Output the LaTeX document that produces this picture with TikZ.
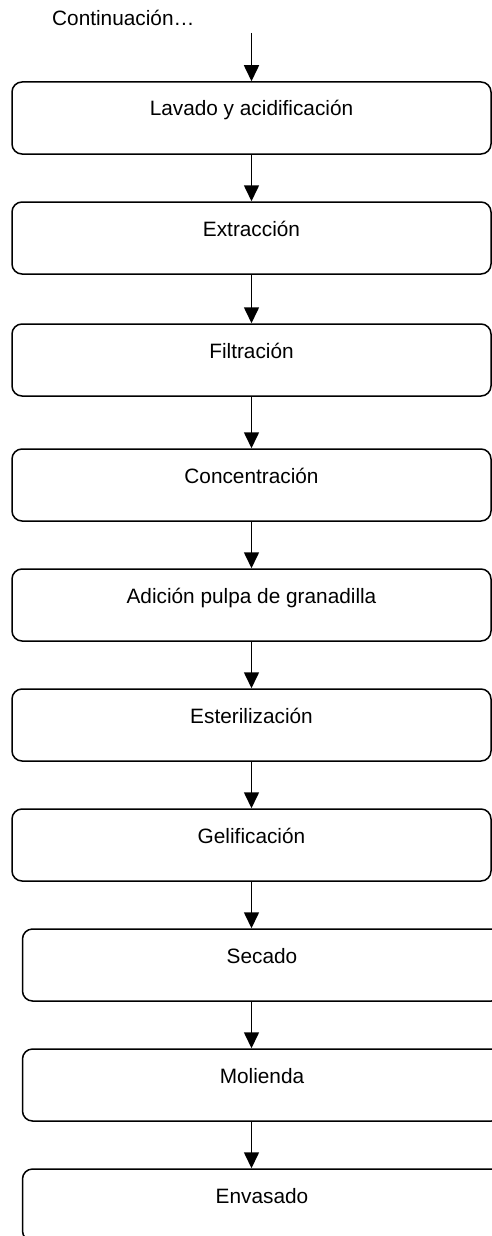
\documentclass[tikz,border=0pt]{standalone}
\usepackage{fontspec}
\setmainfont{Liberation Sans}
\usetikzlibrary{arrows.meta}
\begin{document}
\begin{tikzpicture}[x=1pt,y=-1pt,
  stepbox/.style={draw=black, line width=1.5pt, rounded corners=10pt, rectangle,
    minimum width=479pt, minimum height=72pt, inner sep=0pt,
    text height=14pt, text depth=18pt, font=\fontsize{20.8}{25}\selectfont},
  flow/.style={line width=1.6pt, -{Triangle[width=15pt,length=16pt]}},
  lbl/.style={inner sep=0pt, font=\fontsize{20.8}{25}\selectfont}]
\clip (0,0) rectangle (492,1236);
\fill[white] (0,0) rectangle (492,1236);
\node[lbl, anchor=base west] (cont) at (52,25.5) {Continuación…};
\coordinate (start) at (251.5,33);
\node[stepbox] (b1) at (251.5,118) {Lavado y acidificación};
\node[stepbox] (b2) at (251.5,238) {Extracción};
\node[stepbox] (b3) at (251.5,360) {Filtración};
\node[stepbox] (b4) at (251.5,485) {Concentración};
\node[stepbox] (b5) at (251.5,605) {Adición pulpa de granadilla};
\node[stepbox] (b6) at (251.5,725) {Esterilización};
\node[stepbox] (b7) at (251.5,845) {Gelificación};
\node[stepbox] (b8) at (262,965) {Secado};
\node[stepbox] (b9) at (262,1085) {Molienda};
\node[stepbox] (b10) at (262,1205) {Envasado};
\draw[flow] (start) -- (b1.north);
\draw[flow] (b1.south) -- (b2.north);
\draw[flow] (b2.south) -- (b3.north);
\draw[flow] (b3.south) -- (b4.north);
\draw[flow] (b4.south) -- (b5.north);
\draw[flow] (b5.south) -- (b6.north);
\draw[flow] (b6.south) -- (b7.north);
\draw[flow] (b7.south) -- (b8.north -| b7.south);
\draw[flow] (b8.south -| b7.south) -- (b9.north -| b7.south);
\draw[flow] (b9.south -| b7.south) -- (b10.north -| b7.south);
\end{tikzpicture}
\end{document}
